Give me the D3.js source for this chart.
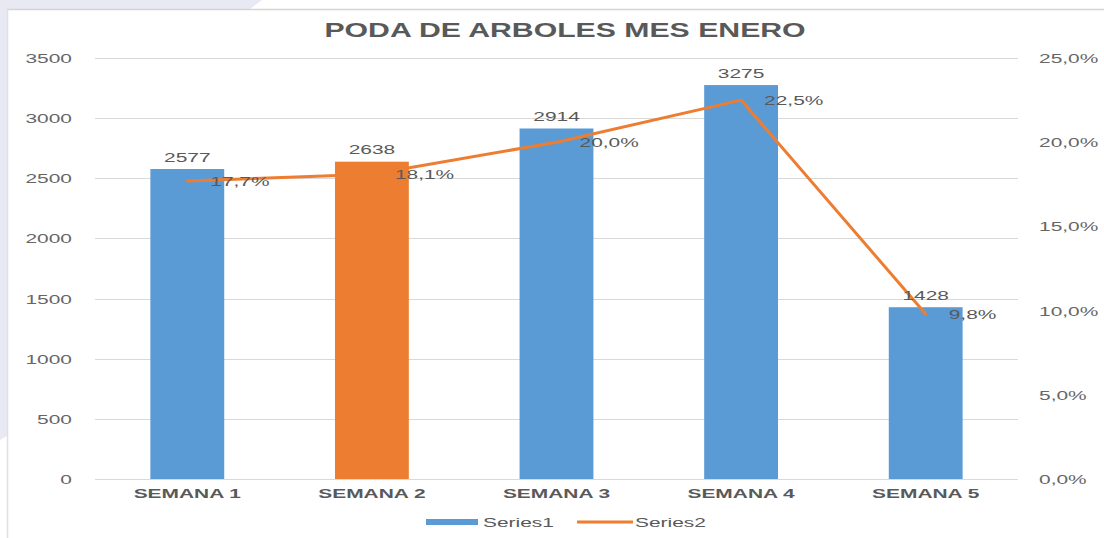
<!DOCTYPE html>
<html>
<head>
<meta charset="utf-8">
<script src="https://cdn.jsdelivr.net/npm/d3@7"></script>
<style>
  html, body { margin: 0; padding: 0; background: #ffffff; }
  svg { display: block; }
  text { font-family: "Liberation Sans", Arial, sans-serif; }
</style>
</head>
<body>
<svg id="chart" width="1104" height="538"></svg>
<script>
// Weekly tree-pruning counts for January and their share of the month
const categories = ["SEMANA 1", "SEMANA 2", "SEMANA 3", "SEMANA 4", "SEMANA 5"];
const series1 = [2577, 2638, 2914, 3275, 1428];
const series2 = [0.177, 0.181, 0.200, 0.225, 0.098];
const leftTicks = [0, 500, 1000, 1500, 2000, 2500, 3000, 3500];
const rightTicks = [0, 0.05, 0.10, 0.15, 0.20, 0.25];
const seriesNames = ["Series1", "Series2"];
const title = "PODA DE ARBOLES MES ENERO";
const highlighted = "SEMANA 2";

const W = 1104, H = 538;
const plot = { left: 95, right: 1018, top: 58, bottom: 479 };
const SX = 1.55; // wide horizontal glyph stretch
const BLUE = "#5B9BD5", ORANGE = "#ED7D31", TEXT = "#595959", GRID = "#d9d9d9";

const svg = d3.select("#chart");

// surrounding window chrome
svg.append("path")
  .attr("d", "M0,0 L262,0 L250,9 L7,9 L7,436 L0,440 Z")
  .attr("fill", "#e9e9f3");
svg.append("line").attr("x1", 7).attr("x2", W).attr("y1", 9.5).attr("y2", 9.5)
  .attr("stroke", "#d4d4d4").attr("stroke-width", 1.5);
svg.append("line").attr("x1", 7.5).attr("x2", 7.5).attr("y1", 9).attr("y2", H)
  .attr("stroke", "#e0e0e6").attr("stroke-width", 1.5);

const x = d3.scaleBand().domain(categories)
  .range([plot.left, plot.right]).paddingInner(0.6).paddingOuter(0.3);
const yL = d3.scaleLinear().domain([0, 3500]).range([plot.bottom, plot.top]);
const yR = d3.scaleLinear().domain([0, 0.25]).range([plot.bottom, plot.top]);

const fmtPct = v => d3.format(".1f")(v * 100).replace(".", ",") + "%";

function stretchedText(g, px, py, str, opts) {
  return g.append("text")
    .attr("transform", `translate(${px},${py}) scale(${SX},1)`)
    .attr("text-anchor", opts.anchor || "start")
    .attr("font-size", opts.size)
    .attr("font-weight", opts.weight || "normal")
    .attr("fill", opts.fill || TEXT)
    .text(str);
}

// gridlines
const grid = svg.append("g");
grid.selectAll("line").data(leftTicks).join("line")
  .attr("x1", plot.left).attr("x2", plot.right)
  .attr("y1", d => Math.round(yL(d)) + 0.5).attr("y2", d => Math.round(yL(d)) + 0.5)
  .attr("stroke", GRID).attr("stroke-width", 1);

// left axis labels
const axL = svg.append("g");
leftTicks.forEach(t => stretchedText(axL, 72, yL(t) + 5, String(t), { anchor: "end", size: 13.5, fill: "#666" }));

// right axis labels
const axR = svg.append("g");
rightTicks.forEach(t => stretchedText(axR, 1039, yR(t) + 5, fmtPct(t), { anchor: "start", size: 13.5, fill: "#666" }));

// bars
svg.append("g").selectAll("rect").data(categories).join("rect")
  .attr("x", d => x(d))
  .attr("width", x.bandwidth())
  .attr("y", (d, i) => yL(series1[i]))
  .attr("height", (d, i) => yL(0) - yL(series1[i]))
  .attr("fill", d => d === highlighted ? ORANGE : BLUE);

// category labels
const cat = svg.append("g");
categories.forEach(c => stretchedText(cat, x(c) + x.bandwidth() / 2, 498, c,
  { anchor: "middle", size: 13.5, weight: "bold" }));

// percentage line
const line = d3.line()
  .x((d, i) => x(categories[i]) + x.bandwidth() / 2)
  .y(d => yR(d));
svg.append("path").datum(series2)
  .attr("d", line)
  .attr("fill", "none")
  .attr("stroke", ORANGE)
  .attr("stroke-width", 3)
  .attr("stroke-linejoin", "round")
  .attr("stroke-linecap", "round");

// value labels on bars
const vl = svg.append("g");
categories.forEach((c, i) => stretchedText(vl, x(c) + x.bandwidth() / 2, yL(series1[i]) - 7.5,
  String(series1[i]), { anchor: "middle", size: 13.5 }));

// percentage labels
const pl = svg.append("g");
categories.forEach((c, i) => stretchedText(pl, x(c) + x.bandwidth() / 2 + 23, yR(series2[i]) + 5,
  fmtPct(series2[i]), { anchor: "start", size: 13.5 }));

// title
stretchedText(svg, 565, 37, title, { anchor: "middle", size: 19.5, weight: "bold" });

// legend
const lg = svg.append("g");
lg.append("rect").attr("x", 426).attr("y", 519).attr("width", 52).attr("height", 6).attr("fill", BLUE);
stretchedText(lg, 483, 527, seriesNames[0], { size: 13.5 });
lg.append("line").attr("x1", 577).attr("x2", 633).attr("y1", 522).attr("y2", 522)
  .attr("stroke", ORANGE).attr("stroke-width", 3);
stretchedText(lg, 635, 527, seriesNames[1], { size: 13.5 });
</script>
</body>
</html>
